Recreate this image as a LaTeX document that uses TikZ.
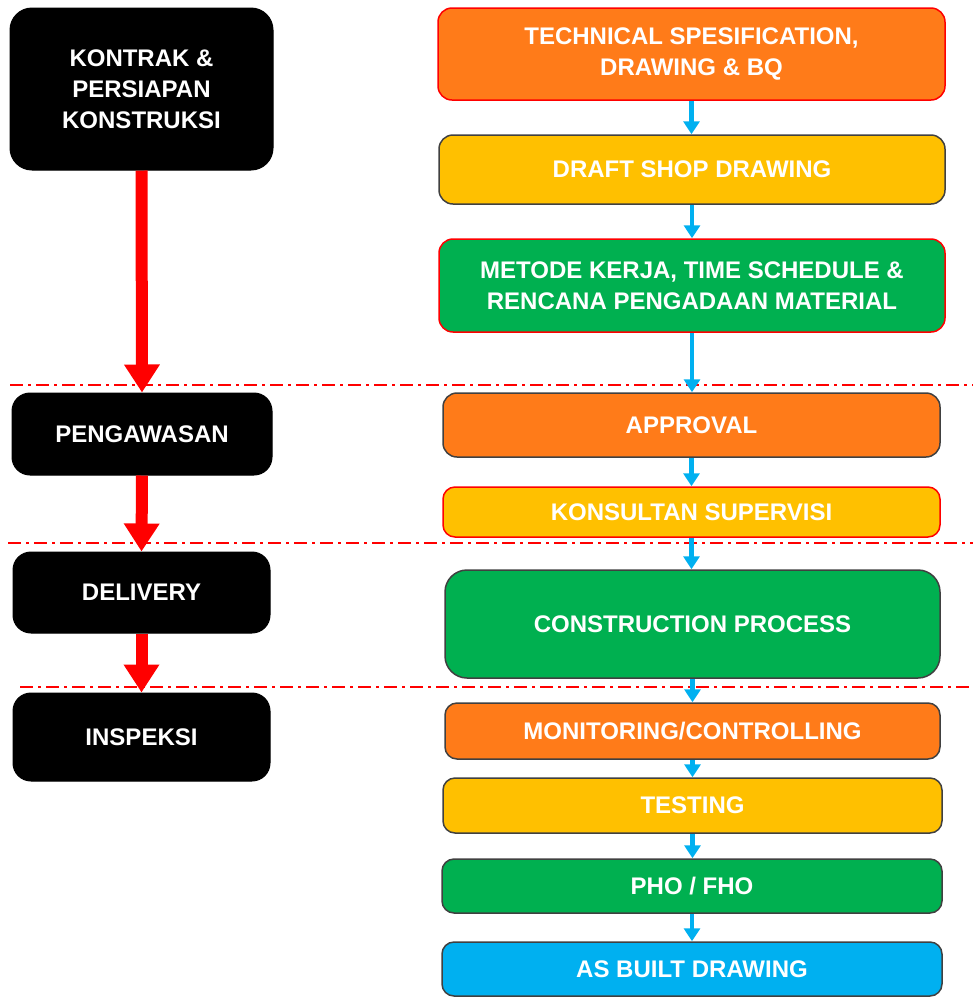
\documentclass[tikz,border=0pt]{standalone}
\usepackage{fontspec}
\setmainfont{Liberation Sans}
\usetikzlibrary{arrows.meta}
\definecolor{cOrange}{HTML}{FF7B19}
\definecolor{cYellow}{HTML}{FFC000}
\definecolor{cGreen}{HTML}{00B050}
\definecolor{cBlue}{HTML}{00B0F0}
\definecolor{cEdge}{HTML}{404040}
\tikzset{
  txt/.style={text=white, font=\fontsize{24}{31}\selectfont\bfseries, align=center, inner sep=0pt},
  blackbox/.style={txt, fill=black, draw=black, line width=1pt, rounded corners=22pt},
  procbox/.style={txt, line width=1.5pt, rounded corners=14pt},
  redarrow/.style={draw=red, line width=12pt, -{Triangle[width=34pt,length=28pt]}},
  bluearrow/.style={draw=cBlue, line width=4.5pt, -{Triangle[width=16pt,length=13pt]}},
  sepline/.style={draw=red, line width=1.5pt, dash pattern=on 13pt off 5pt on 3pt off 5pt}
}
\begin{document}
\begin{tikzpicture}[x=1pt,y=-1pt]
\useasboundingbox (0,0) rectangle (973,997);
% separator lines
\draw[sepline] (10,385) -- (973,385);
\draw[sepline] (8,543) -- (973,543);
\draw[sepline] (20,687) -- (973,687);
% left column
\node[blackbox, minimum width=263pt, minimum height=162pt] (k1) at (141.5,89) {KONTRAK \&\\PERSIAPAN\\KONSTRUKSI};
\node[blackbox, minimum width=260pt, minimum height=82pt, rounded corners=18pt] (peng) at (142,434) {PENGAWASAN};
\node[blackbox, minimum width=257pt, minimum height=81pt, rounded corners=18pt] (deliv) at (141.5,592.5) {DELIVERY};
\node[blackbox, minimum width=257pt, minimum height=88pt, rounded corners=18pt] (insp) at (141.5,737) {INSPEKSI};
% right column
\node[procbox, fill=cOrange, draw=red, minimum width=507pt, minimum height=92pt] (tech) at (691.5,54) {TECHNICAL SPESIFICATION,\\DRAWING \& BQ};
\node[procbox, fill=cYellow, draw=cEdge, minimum width=506pt, minimum height=69pt] (draft) at (692,169.5) {DRAFT SHOP DRAWING};
\node[procbox, fill=cGreen, draw=red, minimum width=506pt, minimum height=93pt] (metode) at (692,285.5) {METODE KERJA, TIME SCHEDULE \&\\RENCANA PENGADAAN MATERIAL};
\node[procbox, fill=cOrange, draw=cEdge, minimum width=497pt, minimum height=64pt] (appr) at (691.5,425) {APPROVAL};
\node[procbox, fill=cYellow, draw=red, minimum width=497pt, minimum height=50pt, rounded corners=12pt] (kons) at (691.5,512) {KONSULTAN SUPERVISI};
\node[procbox, fill=cGreen, draw=cEdge, minimum width=495pt, minimum height=108pt, rounded corners=22pt] (cons) at (692.5,624) {CONSTRUCTION PROCESS};
\node[procbox, fill=cOrange, draw=cEdge, minimum width=495pt, minimum height=56pt, rounded corners=12pt] (moni) at (692.5,731) {MONITORING/CONTROLLING};
\node[procbox, fill=cYellow, draw=cEdge, minimum width=499pt, minimum height=55pt, rounded corners=12pt] (test) at (692.5,805.5) {TESTING};
\node[procbox, fill=cGreen, draw=cEdge, minimum width=500pt, minimum height=54pt, rounded corners=12pt] (pho) at (692,886) {PHO / FHO};
\node[procbox, fill=cBlue, draw=cEdge, minimum width=500pt, minimum height=54pt, rounded corners=12pt] (asb) at (692,969) {AS BUILT DRAWING};
% red arrows
\draw[redarrow] (k1.south) -- (peng.north);
\draw[redarrow] (peng.south) -- (deliv.north);
\draw[redarrow] (deliv.south) -- (insp.north);
% blue arrows
\draw[bluearrow] (tech.south) -- (tech.south |- draft.north);
\draw[bluearrow] (draft.south) -- (draft.south |- metode.north);
\draw[bluearrow] (metode.south) -- (metode.south |- appr.north);
\draw[bluearrow] (appr.south) -- (appr.south |- kons.north);
\draw[bluearrow] (kons.south) -- (kons.south |- cons.north);
\draw[bluearrow] (cons.south) -- (cons.south |- moni.north);
\draw[bluearrow] (moni.south) -- (moni.south |- test.north);
\draw[bluearrow] (test.south) -- (test.south |- pho.north);
\draw[bluearrow] (pho.south) -- (pho.south |- asb.north);
\end{tikzpicture}
\end{document}
